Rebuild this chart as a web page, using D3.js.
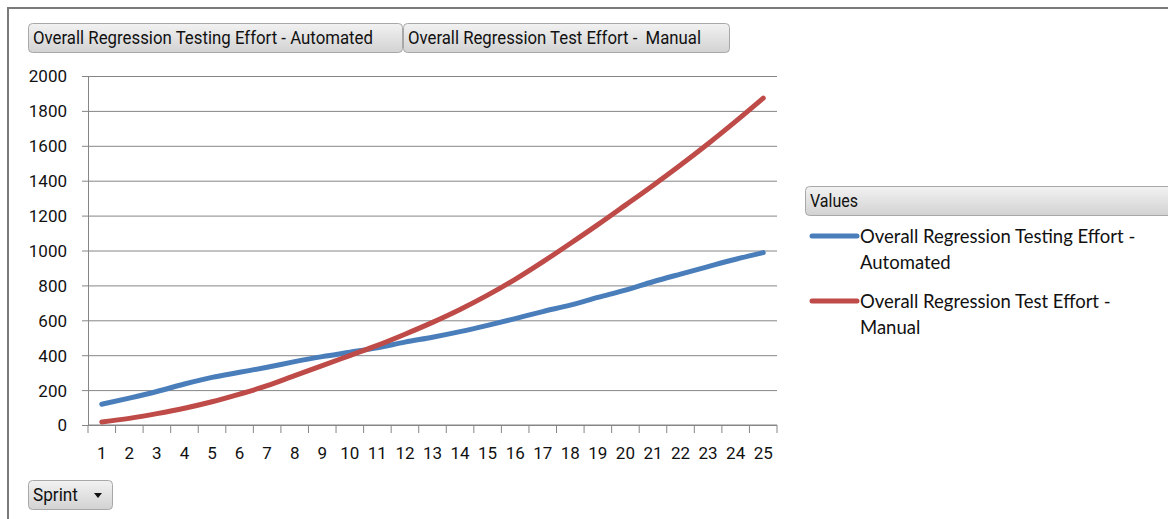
<!DOCTYPE html>
<html>
<head>
<meta charset="utf-8">
<script src="https://cdn.jsdelivr.net/npm/d3@7"></script>
<style>
  body { margin: 0; background: #fff; }
  svg { display: block; }
  .narrow { font-family: Roboto, "Open Sans", sans-serif; fill: #111; white-space: pre; }
  .legend { font-family: Lato, "Open Sans", sans-serif; fill: #111; }
</style>
</head>
<body>
<svg width="1168" height="519"></svg>
<script>
const sprints = d3.range(1, 26);
const automated = [119, 154, 192, 235, 273, 302, 331, 363, 392, 417, 442, 475, 503, 535, 571, 610, 650, 687, 731, 773, 821, 865, 908, 950, 988];
const manual = [17, 38, 65, 96, 133, 177, 225, 283, 340, 398, 456, 520, 588, 662, 744, 835, 935, 1040, 1148, 1260, 1373, 1490, 1612, 1740, 1873];
const seriesNames = ["Overall Regression Testing Effort - Automated", "Overall Regression Test Effort -  Manual"];
const legendLines = [["Overall Regression Testing Effort -", "Automated"], ["Overall Regression Test Effort -", "Manual"]];
const colors = ["#4a7ebb", "#be4b48"];
const yTicks = [0, 200, 400, 600, 800, 1000, 1200, 1400, 1600, 1800, 2000];

const svg = d3.select("svg");

const grad = svg.append("defs").append("linearGradient")
  .attr("id", "btn").attr("x1", 0).attr("y1", 0).attr("x2", 0).attr("y2", 1);
grad.append("stop").attr("offset", "0%").attr("stop-color", "#f2f2f2");
grad.append("stop").attr("offset", "100%").attr("stop-color", "#d2d2d2");

// outer frame
svg.append("rect")
  .attr("x", 8).attr("y", 8).attr("width", 1200).attr("height", 540)
  .attr("fill", "none").attr("stroke", "#7a7a7a").attr("stroke-width", 2);

// field button; label squeezed to the width it has in the original
function button(x, y, w, h, label, textW) {
  const g = svg.append("g");
  g.append("rect")
    .attr("x", x + 0.5).attr("y", y + 0.5).attr("width", w).attr("height", h)
    .attr("rx", 4).attr("fill", "url(#btn)").attr("stroke", "#a8a8a8");
  g.append("text")
    .attr("class", "narrow")
    .attr("x", x + 5).attr("y", y + h / 2 + 6)
    .style("font-size", "17.5px")
    .attr("textLength", textW).attr("lengthAdjust", "spacingAndGlyphs")
    .text(label);
  return g;
}

button(28, 23, 374, 29, seriesNames[0], 340);
button(403, 23, 326, 29, seriesNames[1], 293);
const sp = button(28, 480, 84, 29, "Sprint", 45);
sp.append("path").attr("d", "M94,493 l8,0 l-4,5 z").attr("fill", "#111");

// plot
const pLeft = 88, pRight = 777, pTop = 76, pBottom = 425;
const x = d3.scaleBand().domain(sprints).range([pLeft, pRight]);
const y = d3.scaleLinear().domain([0, 2000]).range([pBottom, pTop]);

svg.append("g")
  .attr("transform", `translate(${pLeft},0)`)
  .call(d3.axisLeft(y).tickValues(yTicks).tickFormat(d3.format("d"))
    .tickSize(-(pRight - pLeft)).tickSizeOuter(0).tickPadding(21))
  .call(g => g.select(".domain").attr("stroke", "#868686"))
  .call(g => g.selectAll(".tick line").attr("stroke", "#868686").attr("x1", -6))
  .call(g => g.selectAll(".tick text").attr("class", "narrow").attr("fill", null)
    .style("font-size", "17px").attr("dy", "0.35em"));

const xg = svg.append("g").attr("transform", `translate(0,${pBottom})`);
xg.append("line").attr("x1", pLeft).attr("x2", pRight).attr("stroke", "#868686");
xg.selectAll(".xt").data(sprints.concat([26])).enter().append("line")
  .attr("x1", d => d <= 25 ? x(d) : pRight).attr("x2", d => d <= 25 ? x(d) : pRight)
  .attr("y1", 0).attr("y2", 8).attr("stroke", "#868686");
xg.selectAll(".xl").data(sprints).enter().append("text")
  .attr("class", "narrow")
  .attr("x", d => x(d) + x.bandwidth() / 2)
  .attr("y", 34)
  .attr("text-anchor", "middle")
  .style("font-size", "17px")
  .text(d => d);

const line = d3.line()
  .x((d, i) => x(sprints[i]) + x.bandwidth() / 2)
  .y(d => y(d))
  .curve(d3.curveMonotoneX);

[automated, manual].forEach((s, i) => {
  svg.append("path")
    .attr("d", line(s))
    .attr("fill", "none")
    .attr("stroke", colors[i])
    .attr("stroke-width", 5)
    .attr("stroke-linecap", "round")
    .attr("stroke-linejoin", "round");
});

// legend
button(805, 186, 380, 29, "Values", 48);
legendLines.forEach((lines, i) => {
  const ly = 236 + i * 65;
  svg.append("line")
    .attr("x1", 812).attr("x2", 857).attr("y1", ly).attr("y2", ly)
    .attr("stroke", colors[i]).attr("stroke-width", 5).attr("stroke-linecap", "round");
  lines.forEach((t, j) => {
    svg.append("text")
      .attr("class", "legend")
      .attr("x", 860).attr("y", ly + 7 + j * 26)
      .style("font-size", "18.5px")
      .text(t);
  });
});
</script>
</body>
</html>
